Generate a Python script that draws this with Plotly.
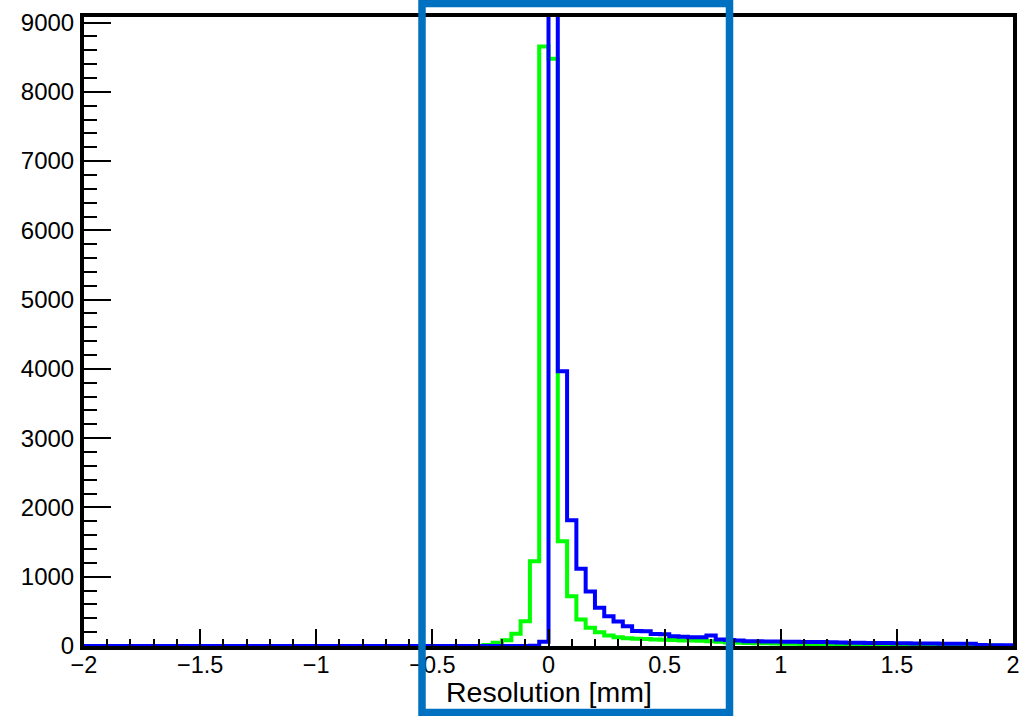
import numpy as np
import plotly.graph_objects as go

# Histogram binning (100 bins from -2 to 2)
x_min = -2.0
x_max = 2.0
n_bins = 100

# Green histogram counts (bin 0 = [-2.00, -1.96])
green_counts = [0] * 43 + [
    15, 46, 84, 176, 358, 1224, 8655, 8478, 1512, 719,
    382, 262, 199, 151, 125, 112, 104, 100, 95, 90,
    85, 80, 78, 75, 70, 60, 50, 46, 42, 40,
    38, 36, 34, 32, 30, 28, 26, 24, 22, 21,
    20, 19, 18, 17, 16, 15, 14, 13, 12, 11,
    10, 10, 9, 8, 8, 7,
]

# Blue histogram counts (peak bin exceeds the displayed range)
blue_counts = [0] * 48 + [
    5, 60, 12000, 3965, 1815, 1114, 786, 551, 430, 354,
    286, 218, 214, 175, 170, 140, 132, 128, 125, 150,
    95, 85, 80, 70, 68, 66, 65, 62, 60, 58,
    58, 56, 55, 50, 48, 46, 45, 44, 43, 40,
    38, 37, 36, 35, 34, 33, 32, 31, 14, 12,
    12, 10,
]

x_tick_vals = [-2, -1.5, -1, -0.5, 0, 0.5, 1, 1.5, 2]
x_tick_text = ["\u22122", "\u22121.5", "\u22121", "\u22120.5", "0", "0.5", "1", "1.5", "2"]
y_tick_vals = [0, 1000, 2000, 3000, 4000, 5000, 6000, 7000, 8000, 9000]
y_tick_text = ["0", "1000", "2000", "3000", "4000", "5000", "6000", "7000", "8000", "9000"]
x_title = "Resolution [mm]"

edges = np.linspace(x_min, x_max, n_bins + 1)


def step_xy(counts):
    return list(edges), list(counts) + [counts[-1]]


fig = go.Figure()
gx, gy = step_xy(green_counts)
bx, by = step_xy(blue_counts)
fig.add_trace(go.Scatter(x=gx, y=gy, mode="lines", line=dict(color="rgb(0,255,0)", width=4, shape="hv"),
                         showlegend=False, hoverinfo="skip"))
fig.add_trace(go.Scatter(x=bx, y=by, mode="lines", line=dict(color="rgb(0,0,255)", width=4, shape="hv"),
                         showlegend=False, hoverinfo="skip"))

W, H = 1027, 716
ml, mr, mt, mb = 84, 14, 17, 70
pw, ph = W - ml - mr, H - mt - mb


def px_to_paper_x(px):
    return (px - ml) / pw


def px_to_paper_y(py):
    return (H - mb - py) / ph


font_family = "Liberation Sans, Arial, sans-serif"

fig.update_layout(
    width=W, height=H,
    margin=dict(l=ml, r=mr, t=mt, b=mb, autoexpand=False),
    paper_bgcolor="white", plot_bgcolor="white",
    font=dict(family=font_family, color="black"),
    xaxis=dict(
        range=[x_min, x_max], showgrid=False, zeroline=False, automargin=False,
        showline=True, linecolor="black", linewidth=4, mirror=True,
        ticks="inside", ticklen=17, tickwidth=1.5, tickcolor="black",
        tickmode="array", tickvals=x_tick_vals, ticktext=x_tick_text,
        tickfont=dict(size=23.5, family=font_family, color="black"),
        ticklabelstandoff=-5,
        minor=dict(tickmode="linear", tick0=-2, dtick=0.1, ticks="inside", ticklen=7,
                   tickwidth=1.5, tickcolor="black", showgrid=False),
    ),
    yaxis=dict(
        range=[0, 9080], showgrid=False, zeroline=False, automargin=False,
        showline=True, linecolor="black", linewidth=4, mirror=True,
        ticks="inside", ticklen=27, tickwidth=1.5, tickcolor="black",
        tickmode="array", tickvals=y_tick_vals, ticktext=y_tick_text,
        tickfont=dict(size=24, family=font_family, color="black"),
        ticklabelstandoff=1,
        minor=dict(tickmode="linear", tick0=0, dtick=200, ticks="inside", ticklen=13,
                   tickwidth=1.5, tickcolor="black", showgrid=False),
    ),
    annotations=[dict(
        text=x_title, xref="paper", yref="paper", x=0.5, y=px_to_paper_y(692),
        xanchor="center", yanchor="middle", showarrow=False, borderpad=0,
        font=dict(size=28.5, family=font_family, color="black"),
    )],
    shapes=[dict(
        type="rect", xref="paper", yref="paper",
        x0=px_to_paper_x(422), x1=px_to_paper_x(729.5),
        y0=px_to_paper_y(712.5), y1=px_to_paper_y(3.5),
        line=dict(color="rgb(0,112,192)", width=7.5), fillcolor="rgba(0,0,0,0)", layer="above",
    )],
)

fig.write_html("out.html", config={"displayModeBar": False},
               post_script="document.body.style.margin='0';document.body.style.overflow='hidden';")
